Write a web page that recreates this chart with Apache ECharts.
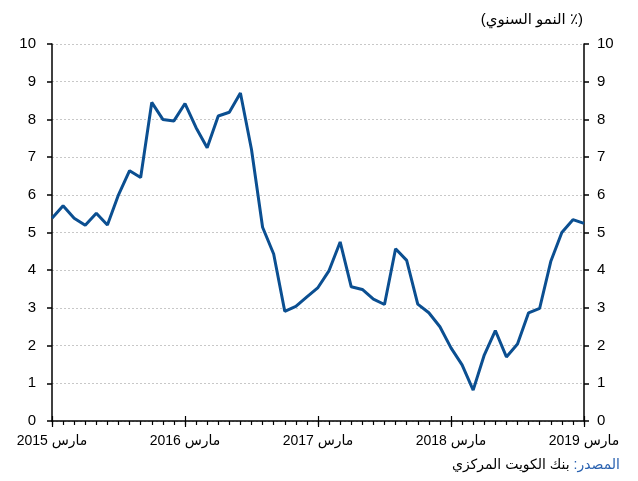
<!DOCTYPE html>
<html>
<head>
<meta charset="utf-8">
<script src="https://cdn.jsdelivr.net/npm/echarts@6/dist/echarts.min.js"></script>
<style>
html, body { margin: 0; padding: 0; background: #fff; }
#chart { width: 638px; height: 481px; }
</style>
</head>
<body>
<div id="chart"></div>
<script>
// months Mar 2015 .. Mar 2019
var months = [
	'2015-03','2015-04','2015-05','2015-06','2015-07','2015-08','2015-09','2015-10','2015-11','2015-12','2016-01','2016-02',
	'2016-03','2016-04','2016-05','2016-06','2016-07','2016-08','2016-09','2016-10','2016-11','2016-12','2017-01','2017-02',
	'2017-03','2017-04','2017-05','2017-06','2017-07','2017-08','2017-09','2017-10','2017-11','2017-12','2018-01','2018-02',
	'2018-03','2018-04','2018-05','2018-06','2018-07','2018-08','2018-09','2018-10','2018-11','2018-12','2019-01','2019-02',
	'2019-03'
];
var growth = [
	5.38, 5.71, 5.38, 5.19, 5.51, 5.2, 6.0, 6.64, 6.46, 8.45, 8.0, 7.96,
	8.42, 7.78, 7.25, 8.09, 8.19, 8.7, 7.2, 5.14, 4.43, 2.91, 3.04, 3.29,
	3.54, 3.99, 4.75, 3.56, 3.49, 3.23, 3.09, 4.57, 4.26, 3.1, 2.87, 2.5,
	1.94, 1.49, 0.82, 1.75, 2.4, 1.7, 2.04, 2.87, 2.99, 4.23, 5.0, 5.34,
	5.24
];
var yearLabels = ['مارس 2015', 'مارس 2016', 'مارس 2017', 'مارس 2018', 'مارس 2019'];
var titleText = '\u200F(٪ النمو السنوي)\u200F';
var sourceLabel = 'المصدر:\u200F';
var sourceText = 'بنك الكويت المركزي ';

var font = 'Arial, "Liberation Sans", "DejaVu Sans", sans-serif';
var myChart = echarts.init(document.getElementById('chart'), null, {renderer: 'canvas'});

function yAxisDef(pos, margin){
	return {
		type: 'value',
		position: pos,
		min: 0,
		max: 10,
		interval: 1,
		axisLine: {show: true, lineStyle: {color: '#000', width: 1.5}},
		axisTick: {show: true, length: 5, lineStyle: {color: '#000', width: 1.5}},
		axisLabel: {color: '#000', fontSize: 15, fontFamily: font, margin: margin},
		splitLine: {show: pos == 'left', lineStyle: {color: '#c8c8c8', type: [2, 2], width: 1}}
	};
}

function xAxisDef(tickLen, inside, tickInterval, showLabel){
	return {
		type: 'category',
		position: 'bottom',
		offset: 0,
		data: months,
		boundaryGap: false,
		axisLine: {show: showLabel, lineStyle: {color: '#000', width: 1.5}},
		axisTick: {show: true, inside: inside, length: tickLen, interval: tickInterval, lineStyle: {color: '#000', width: 1.2}},
		axisLabel: {
			show: showLabel,
			interval: 11,
			margin: 13,
			color: '#000',
			fontSize: 14,
			fontFamily: font,
			formatter: function(v, i){ return yearLabels[Math.round(i / 12)]; }
		},
		splitLine: {show: false}
	};
}

var option = {
	animation: false,
	backgroundColor: '#fff',
	grid: {left: 52, right: 54, top: 44, bottom: 60},
	xAxis: [
		xAxisDef(4, false, 0, true),
		xAxisDef(6, false, 11, false),
		xAxisDef(5, true, 11, false)
	],
	yAxis: [yAxisDef('left', 16), yAxisDef('right', 13)],
	graphic: [
		{
			type: 'text',
			right: 55,
			top: 12,
			style: {text: titleText, fill: '#000', fontSize: 15, fontFamily: font}
		},
		{
			type: 'text',
			right: 18,
			top: 458,
			style: {
				text: '{b|' + sourceText + '}{a|' + sourceLabel + '}',
				fontFamily: font,
				rich: {
					a: {fill: '#2a62b0', fontSize: 14, fontFamily: font},
					b: {fill: '#000', fontSize: 14, fontFamily: font}
				}
			}
		}
	],
	series: [
		{
			type: 'line',
			data: growth,
			symbol: 'none',
			lineStyle: {color: '#0b4f91', width: 3},
			xAxisIndex: 0,
			yAxisIndex: 0
		}
	]
};

myChart.setOption(option);
window.onresize = myChart.resize;
</script>
</body>
</html>
